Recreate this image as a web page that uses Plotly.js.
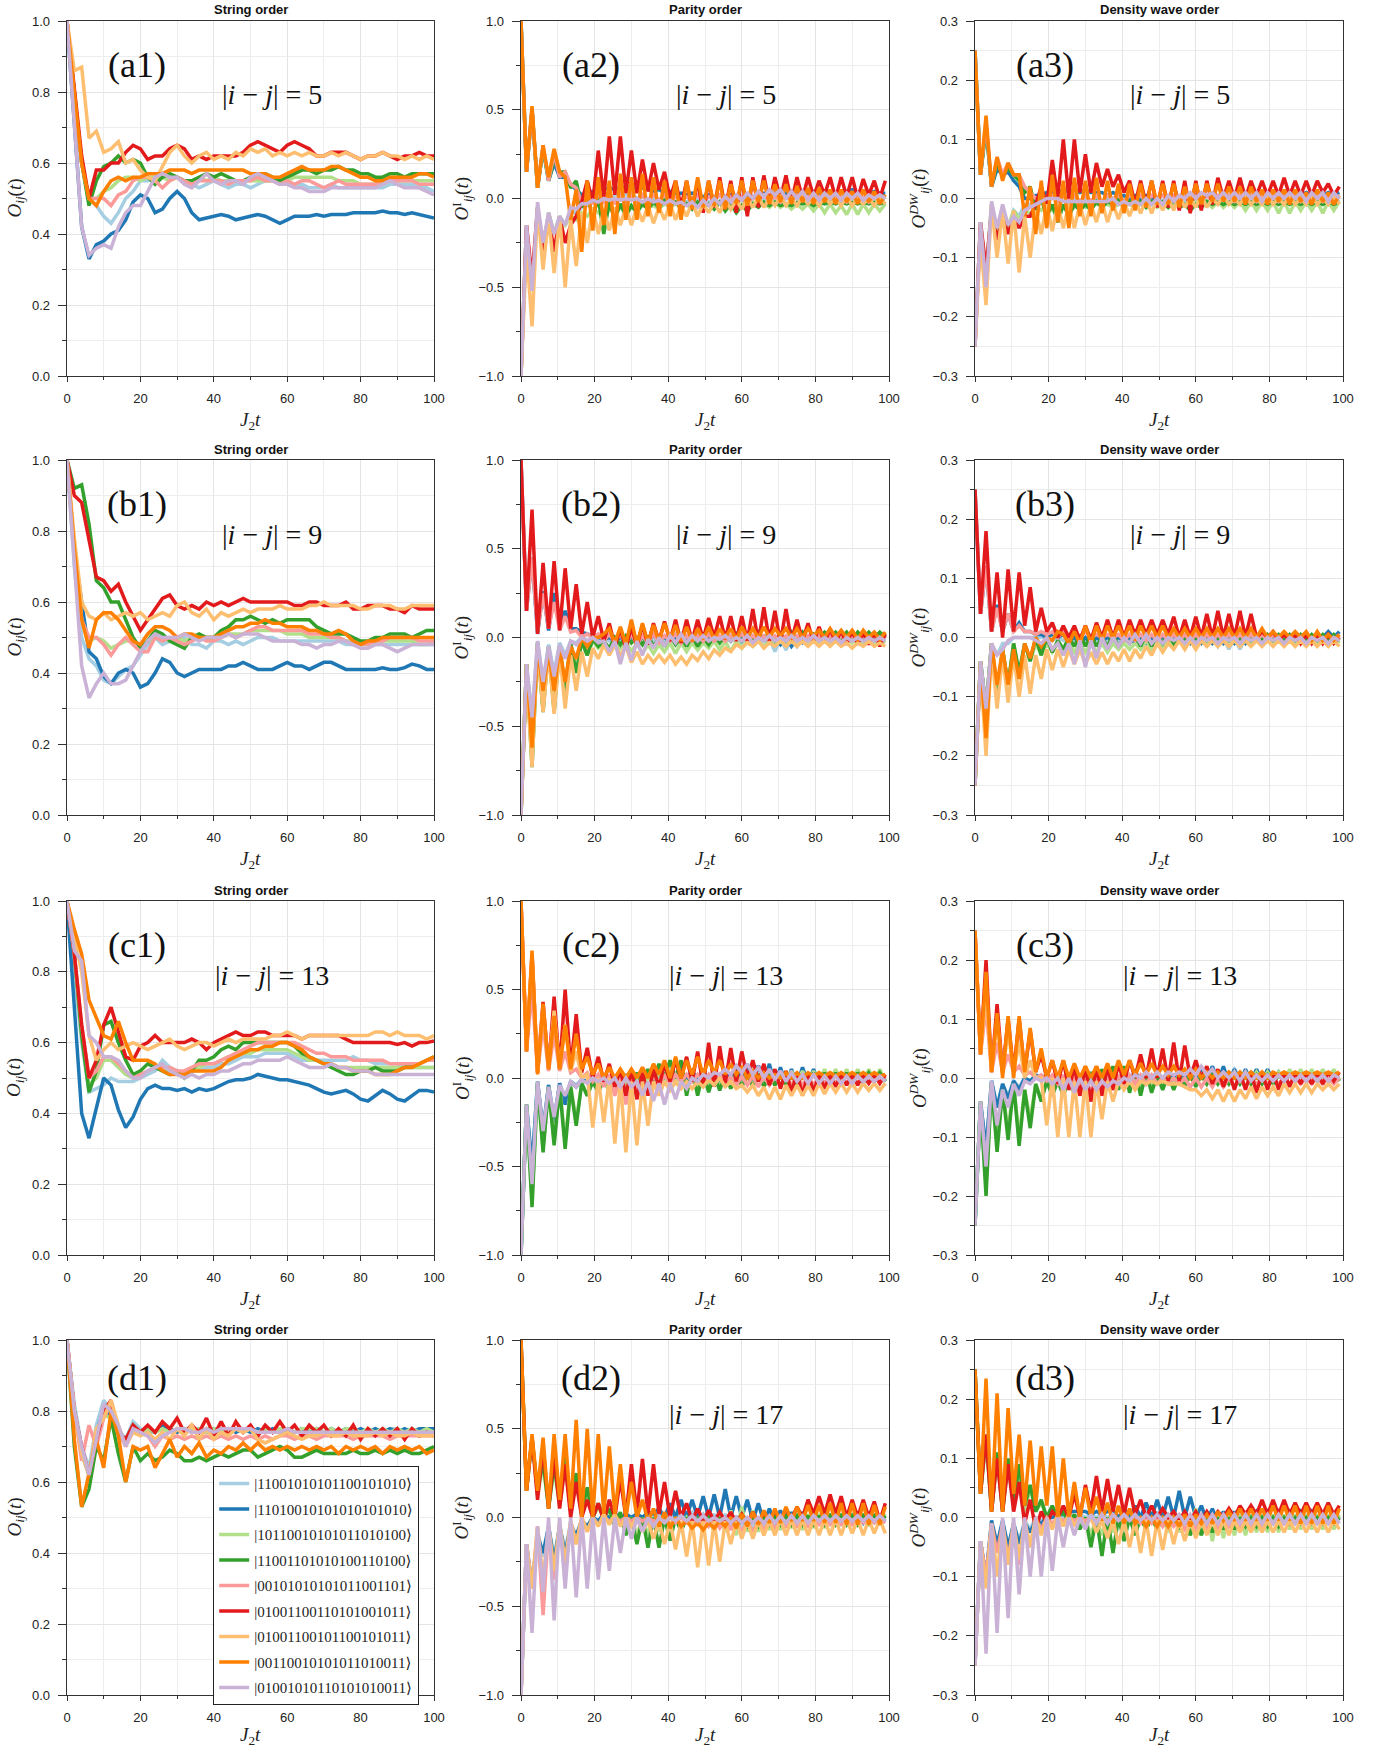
<!DOCTYPE html>
<html><head><meta charset="utf-8">
<script src="https://cdn.plot.ly/plotly-3.0.1.min.js"></script>
<style>html,body{margin:0;padding:0;background:#fff}#chart{width:1388px;height:1750px}</style>
</head><body><div id="chart"></div>
<script>
// time grids
const tS = [0,2,4,6,8,10,12,14,16,18,20,22,24,26,28,30,32,34,36,38,40,42,44,46,48,50,52,54,56,58,60,62,64,66,68,70,72,74,76,78,80,82,84,86,88,90,92,94,96,98,100];
const tP = [0,1.5,3,4.5,6,7.5,9,10.5,12,13.5,15,16.5,18,19.5,21,22.5,24,25.5,27,28.5,30,31.5,33,34.5,36,37.5,39,40.5,42,43.5,45,46.5,48,49.5,51,52.5,54,55.5,57,58.5,60,61.5,63,64.5,66,67.5,69,70.5,72,73.5,75,76.5,78,79.5,81,82.5,84,85.5,87,88.5,90,91.5,93,94.5,96,97.5,99];
const stateLabels = ['|11001010101100101010⟩','|11010010101010101010⟩','|10110010101011010100⟩','|11001101010100110100⟩','|00101010101011001101⟩','|01001100110101001011⟩','|01001100101100101011⟩','|00110010101011010011⟩','|01001010110101010011⟩'];
const distances = [5, 9, 13, 17];

// ---- (a1) string order, |i-j|=5 ----
const a1_lb = [1,.78,.6,.5,.48,.45,.43,.46,.5,.52,.55,.55,.56,.56,.56,.56,.55,.54,.53,.54,.55,.54,.53,.54,.54,.53,.54,.55,.55,.54,.54,.54,.54,.53,.53,.53,.54,.53,.53,.53,.53,.53,.53,.53,.54,.54,.54,.54,.53,.53,.52];
const a1_db = [1,.7,.42,.33,.37,.38,.4,.41,.44,.49,.51,.5,.46,.47,.5,.52,.5,.46,.44,.445,.45,.455,.45,.44,.445,.45,.455,.45,.44,.43,.44,.45,.45,.45,.455,.45,.455,.455,.455,.46,.46,.46,.46,.465,.46,.46,.455,.46,.455,.45,.445];
const a1_lg = [1,.78,.6,.5,.5,.52,.53,.55,.56,.56,.55,.56,.56,.56,.55,.56,.55,.55,.56,.55,.56,.55,.55,.55,.55,.55,.55,.55,.55,.55,.55,.56,.56,.56,.56,.56,.56,.55,.55,.55,.54,.54,.54,.54,.55,.55,.55,.55,.55,.55,.55];
const a1_dg = [1,.8,.6,.48,.55,.59,.6,.62,.6,.61,.6,.56,.54,.56,.57,.56,.55,.55,.56,.57,.56,.57,.56,.55,.55,.56,.56,.57,.56,.55,.56,.57,.58,.58,.57,.58,.58,.59,.58,.58,.57,.57,.56,.56,.57,.57,.56,.57,.57,.57,.57];
const a1_pk = [1,.78,.6,.5,.5,.5,.48,.51,.52,.55,.56,.56,.55,.53,.55,.56,.55,.54,.55,.55,.55,.55,.54,.55,.55,.55,.56,.55,.55,.54,.55,.54,.55,.55,.54,.53,.54,.55,.54,.54,.54,.54,.54,.55,.55,.55,.55,.55,.54,.54,.54];
const a1_rd = [1,.8,.62,.5,.58,.58,.6,.6,.63,.65,.64,.61,.62,.62,.64,.65,.64,.61,.62,.61,.62,.62,.62,.62,.63,.65,.66,.65,.64,.63,.65,.66,.65,.64,.62,.62,.63,.63,.63,.62,.61,.62,.62,.63,.62,.61,.62,.62,.63,.62,.62];
const a1_lo = [1,.86,.87,.67,.69,.63,.64,.66,.6,.61,.58,.56,.55,.59,.63,.65,.62,.6,.62,.63,.61,.62,.61,.63,.62,.64,.63,.64,.62,.63,.62,.63,.62,.63,.62,.62,.63,.62,.63,.62,.61,.62,.62,.63,.62,.62,.61,.62,.61,.62,.61];
const a1_or = [1,.8,.6,.5,.48,.52,.55,.56,.55,.56,.56,.57,.57,.57,.58,.58,.58,.57,.58,.58,.58,.58,.58,.58,.58,.57,.57,.57,.56,.56,.57,.58,.59,.58,.58,.58,.59,.59,.58,.57,.56,.56,.55,.55,.56,.56,.56,.56,.57,.57,.56];
const a1_lv = [1,.7,.42,.34,.36,.37,.36,.42,.46,.48,.48,.52,.56,.57,.56,.56,.54,.53,.55,.57,.55,.54,.55,.55,.54,.56,.57,.56,.55,.54,.54,.53,.53,.52,.52,.52,.53,.53,.53,.53,.53,.53,.53,.54,.55,.54,.53,.53,.53,.52,.51];

// ---- (b1) string order, |i-j|=9 ----
const b1_lb = [1,.7,.5,.44,.42,.38,.37,.39,.41,.42,.45,.48,.5,.48,.49,.49,.5,.48,.48,.47,.49,.49,.48,.49,.48,.49,.5,.5,.5,.49,.49,.49,.49,.49,.49,.49,.49,.49,.48,.48,.48,.48,.48,.48,.48,.48,.48,.48,.48,.48,.48];
const b1_db = [1,.75,.6,.46,.44,.39,.37,.4,.41,.4,.36,.37,.4,.44,.43,.4,.39,.4,.41,.41,.41,.41,.42,.42,.43,.42,.41,.41,.41,.42,.43,.42,.42,.41,.42,.43,.43,.42,.41,.41,.41,.41,.41,.415,.41,.41,.415,.425,.42,.41,.41];
const b1_lg = [1,.75,.55,.49,.5,.49,.47,.48,.49,.49,.48,.49,.5,.5,.49,.5,.49,.5,.5,.5,.5,.5,.51,.51,.51,.52,.52,.52,.52,.52,.51,.51,.51,.5,.5,.5,.5,.5,.49,.49,.48,.48,.49,.49,.49,.49,.49,.49,.48,.48,.49];
const b1_dg = [1,.92,.93,.82,.66,.64,.6,.6,.55,.5,.47,.49,.52,.51,.49,.48,.47,.5,.51,.5,.5,.52,.53,.55,.55,.56,.55,.54,.55,.54,.55,.55,.55,.55,.53,.52,.51,.51,.51,.5,.49,.49,.5,.5,.51,.51,.51,.5,.51,.52,.52];
const b1_pk = [1,.75,.55,.5,.5,.48,.45,.48,.5,.48,.46,.46,.5,.49,.5,.49,.48,.49,.5,.49,.49,.5,.51,.5,.51,.52,.53,.53,.52,.52,.52,.52,.52,.51,.51,.51,.5,.5,.49,.48,.48,.48,.49,.49,.5,.5,.5,.5,.49,.49,.49];
const b1_rd = [1,.9,.88,.77,.67,.66,.63,.65,.6,.56,.52,.55,.58,.61,.62,.59,.58,.59,.58,.6,.59,.6,.59,.6,.61,.6,.6,.6,.6,.6,.6,.59,.59,.6,.6,.59,.59,.59,.6,.58,.58,.59,.59,.59,.58,.58,.57,.59,.58,.58,.58];
const b1_lo = [1,.78,.6,.56,.55,.57,.55,.56,.57,.56,.57,.55,.56,.57,.56,.59,.6,.57,.56,.58,.55,.57,.56,.57,.58,.57,.58,.58,.58,.59,.58,.58,.58,.59,.59,.6,.59,.59,.59,.59,.58,.58,.59,.59,.59,.58,.58,.59,.59,.59,.59];
const b1_or = [1,.75,.55,.47,.55,.57,.57,.55,.52,.49,.48,.51,.53,.53,.52,.5,.51,.51,.5,.5,.5,.51,.52,.53,.53,.54,.54,.55,.54,.54,.53,.53,.53,.52,.52,.51,.51,.52,.51,.49,.48,.49,.49,.5,.5,.5,.5,.5,.5,.5,.5];
const b1_lv = [1,.7,.42,.33,.37,.4,.37,.37,.38,.42,.46,.49,.51,.5,.5,.5,.51,.5,.49,.5,.5,.5,.51,.5,.51,.51,.51,.5,.49,.49,.49,.49,.48,.48,.47,.48,.48,.49,.49,.48,.47,.47,.48,.48,.47,.46,.47,.48,.48,.48,.48];

// ---- (c1) string order, |i-j|=13 ----
const c1_lb = [1,.8,.6,.46,.47,.48,.5,.49,.49,.49,.5,.51,.52,.55,.53,.52,.51,.52,.52,.53,.53,.54,.54,.55,.56,.56,.56,.57,.57,.57,.57,.56,.55,.55,.55,.55,.55,.55,.55,.56,.55,.55,.54,.54,.54,.54,.53,.53,.53,.53,.53];
const c1_db = [1,.7,.4,.33,.42,.5,.48,.41,.36,.39,.44,.47,.48,.47,.47,.465,.47,.46,.47,.465,.47,.48,.49,.495,.495,.5,.51,.505,.5,.495,.495,.49,.485,.48,.47,.46,.455,.46,.465,.455,.44,.435,.45,.465,.455,.44,.435,.45,.465,.465,.46];
const c1_lg = [1,.85,.62,.48,.5,.55,.55,.53,.51,.5,.51,.52,.53,.53,.52,.51,.51,.52,.53,.54,.54,.55,.56,.56,.57,.57,.58,.58,.58,.58,.58,.57,.56,.55,.55,.54,.54,.53,.53,.53,.53,.53,.53,.53,.53,.53,.53,.53,.53,.53,.53];
const c1_dg = [1,.85,.62,.46,.52,.65,.66,.6,.55,.51,.52,.54,.53,.52,.51,.52,.5,.52,.55,.55,.56,.58,.59,.58,.6,.6,.6,.6,.6,.6,.6,.59,.57,.56,.55,.54,.53,.52,.51,.51,.52,.52,.53,.52,.52,.52,.53,.54,.54,.55,.56];
const c1_pk = [1,.85,.65,.5,.52,.56,.56,.54,.52,.5,.51,.52,.53,.53,.53,.52,.52,.53,.54,.54,.54,.55,.56,.57,.58,.59,.6,.6,.6,.6,.6,.6,.59,.58,.57,.57,.56,.56,.56,.55,.55,.55,.55,.55,.54,.54,.54,.54,.54,.55,.55];
const c1_rd = [1,.85,.65,.5,.55,.65,.7,.63,.56,.55,.59,.6,.62,.6,.6,.6,.6,.61,.6,.58,.6,.61,.62,.63,.62,.62,.63,.63,.62,.62,.62,.62,.61,.62,.62,.62,.62,.62,.61,.6,.6,.6,.6,.6,.6,.595,.6,.59,.6,.6,.605];
const c1_lo = [1,.9,.8,.62,.55,.58,.6,.58,.59,.6,.59,.58,.59,.6,.61,.59,.58,.59,.6,.6,.59,.6,.61,.6,.61,.61,.61,.61,.62,.62,.63,.62,.61,.62,.62,.62,.62,.62,.62,.62,.62,.62,.63,.63,.62,.63,.62,.62,.62,.61,.62];
const c1_or = [1,.92,.85,.72,.67,.62,.61,.66,.6,.55,.55,.55,.54,.52,.51,.51,.51,.52,.52,.52,.52,.53,.55,.56,.57,.58,.58,.59,.59,.6,.6,.59,.58,.56,.55,.54,.54,.53,.53,.52,.52,.52,.51,.51,.51,.52,.53,.53,.54,.55,.56];
const c1_lv = [1,.86,.83,.62,.6,.56,.56,.55,.52,.5,.5,.52,.53,.54,.52,.51,.5,.51,.5,.51,.51,.52,.52,.53,.54,.54,.55,.55,.55,.55,.56,.55,.54,.53,.53,.53,.54,.53,.53,.52,.52,.52,.51,.51,.51,.51,.51,.51,.51,.51,.51];

// ---- (d1) string order, |i-j|=17 ----
const d1_lb = [1,.82,.7,.64,.76,.83,.8,.75,.72,.77,.75,.74,.74,.75,.74,.75,.74,.75,.74,.75,.75,.74,.75,.74,.75,.75,.74,.75,.74,.75,.75,.74,.75,.74,.75,.74,.75,.74,.75,.74,.75,.74,.75,.74,.75,.75,.74,.75,.74,.75,.75];
const d1_db = [1,.8,.68,.62,.74,.8,.79,.74,.72,.76,.74,.75,.74,.76,.75,.74,.75,.74,.75,.74,.75,.74,.75,.74,.75,.74,.75,.74,.75,.74,.75,.74,.75,.74,.75,.74,.75,.74,.75,.74,.75,.74,.75,.74,.75,.74,.75,.74,.75,.75,.75];
const d1_lg = [1,.8,.68,.62,.74,.79,.78,.74,.72,.76,.74,.75,.74,.75,.74,.75,.75,.74,.75,.74,.75,.74,.75,.75,.74,.75,.74,.75,.74,.75,.75,.74,.75,.75,.75,.74,.75,.74,.75,.75,.74,.75,.74,.75,.74,.75,.74,.75,.74,.75,.74];
const d1_dg = [1,.7,.53,.58,.7,.66,.78,.68,.6,.7,.66,.68,.66,.67,.69,.68,.66,.66,.67,.66,.67,.68,.67,.68,.69,.69,.67,.68,.69,.7,.69,.67,.67,.68,.69,.68,.68,.68,.68,.69,.68,.68,.69,.68,.69,.68,.69,.68,.68,.69,.7];
const d1_pk = [1,.8,.66,.76,.7,.78,.82,.74,.7,.75,.74,.73,.7,.73,.72,.73,.72,.73,.72,.73,.72,.73,.72,.73,.72,.73,.72,.73,.72,.73,.73,.72,.73,.73,.72,.73,.73,.73,.73,.72,.73,.73,.73,.73,.72,.73,.73,.73,.73,.73,.73];
const d1_rd = [1,.8,.7,.62,.72,.8,.83,.74,.72,.76,.74,.76,.74,.77,.75,.78,.74,.76,.74,.78,.73,.77,.73,.77,.74,.76,.73,.76,.74,.77,.74,.76,.73,.76,.74,.76,.73,.75,.73,.76,.72,.75,.73,.75,.73,.75,.72,.75,.73,.74,.73];
const d1_lo = [1,.8,.68,.62,.75,.78,.83,.76,.7,.74,.73,.74,.72,.74,.72,.75,.73,.76,.72,.75,.72,.74,.73,.75,.74,.75,.72,.71,.72,.73,.74,.73,.72,.73,.73,.74,.73,.73,.74,.73,.73,.73,.74,.73,.74,.73,.73,.74,.73,.73,.73];
const d1_or = [1,.72,.53,.63,.72,.64,.8,.73,.6,.7,.69,.7,.64,.68,.72,.67,.7,.68,.71,.67,.69,.68,.7,.69,.71,.69,.71,.69,.7,.69,.7,.69,.7,.69,.7,.69,.7,.68,.7,.69,.7,.69,.7,.68,.7,.69,.7,.69,.7,.68,.69];
const d1_lv = [1,.8,.7,.62,.72,.82,.8,.76,.7,.75,.74,.73,.71,.73,.74,.75,.75,.74,.74,.75,.74,.75,.75,.75,.75,.75,.74,.74,.74,.74,.75,.74,.74,.74,.74,.74,.74,.74,.74,.74,.74,.74,.74,.74,.74,.74,.74,.74,.74,.74,.74];

// ---- (a2) parity order, |i-j|=5 ----
const a2_lb = [-1,-.15,-.5,-.05,-.28,-.08,-.2,-.1,-.15,-.08,-.08,-.05,-.04,-.02,-.02,0,0,.02,.03,.02,.03,0,.01,-.01,0,-.01,0,-.01,-.02,-.01,-.02,0,-.01,0,-.02,-.01,-.02,0,-.01,0,-.01,.01,0,.01,-.01,0,-.01,.01,0,.01,0,.01,-.01,.01,0,.01,-.01,0,0,.01,0,.01,-.01,0,0,.01,0];
const a2_db = [1,.15,.5,.06,.28,.1,.2,.12,.12,.08,.05,.02,.03,.04,.05,.05,.06,.05,.07,.06,.07,.05,.06,.05,.04,.05,.03,.04,.02,.03,.02,.03,.02,.01,.02,0,.02,.01,.02,0,.01,.02,.01,.02,.03,.01,.03,.02,.03,.02,.03,.04,.03,.04,.03,.04,.04,.03,.04,.04,.05,.03,.04,.03,.04,.03,.03];
const a2_lg = [-1,-.15,-.5,-.05,-.28,-.08,-.2,-.1,-.15,-.1,-.12,-.08,-.1,-.06,-.08,-.1,-.06,-.08,-.05,-.07,-.05,-.06,-.04,-.05,-.04,-.06,-.03,-.05,-.03,-.05,-.03,-.05,-.02,-.05,-.03,-.06,-.02,-.05,-.03,-.06,-.03,-.05,-.02,-.04,-.03,-.05,-.02,-.05,-.03,-.06,-.03,-.06,-.03,-.07,-.03,-.08,-.03,-.08,-.04,-.09,-.03,-.09,-.03,-.08,-.03,-.07,-.03];
const a2_dg = [1,.15,.5,.06,.28,.1,.22,.15,.15,.06,.1,-.05,.02,-.1,0,-.2,-.02,-.12,-.03,-.1,-.04,-.08,-.03,-.06,-.02,-.05,-.01,-.04,-.02,-.05,-.03,-.06,-.02,-.05,-.03,-.06,-.02,-.07,-.03,-.08,-.04,-.07,-.03,-.05,-.02,-.04,-.02,-.04,-.03,-.04,-.02,-.03,-.02,-.04,-.02,-.03,-.02,-.03,-.02,-.03,-.02,-.03,-.02,-.03,-.02,-.03,-.02];
const a2_pk = [1,.15,.5,.06,.3,.1,.25,.12,.15,.08,.06,-.02,.03,-.03,.02,-.02,.03,-.03,.02,-.02,.02,-.02,.02,-.02,.02,-.01,.02,-.02,.01,-.01,.01,-.01,.02,-.02,.01,-.01,.02,-.01,.01,-.02,.01,-.02,.01,-.01,.02,-.01,.01,-.02,.01,-.01,.02,-.01,.01,-.02,.01,-.01,.02,-.01,.01,-.02,.01,-.01,.01,-.02,.01,-.01,.01];
const a2_rd = [-1,-.15,-.45,-.05,-.33,-.1,-.3,-.1,-.25,-.15,-.1,-.02,.1,-.02,.27,0,.35,.02,.35,.03,.27,.03,.22,.04,.2,.05,.15,0,.1,-.05,.1,-.06,.1,-.08,.1,-.05,.12,-.06,.1,-.08,.12,-.1,.12,-.05,.13,-.03,.12,0,.13,-.02,.12,0,.12,.01,.1,.02,.12,0,.12,.01,.12,0,.11,.02,.1,0,.1];
const a2_lo = [-1,-.28,-.72,-.05,-.4,-.1,-.42,-.1,-.5,-.12,-.38,-.08,-.25,-.05,-.2,-.06,-.18,-.05,-.15,-.05,-.15,-.05,-.13,-.04,-.14,-.05,-.12,-.03,-.12,-.04,-.1,-.02,-.1,-.03,-.08,-.02,-.08,-.01,-.06,-.01,-.06,0,-.05,.01,-.05,0,-.04,.01,-.04,0,-.04,.01,-.03,0,-.04,.01,-.03,0,-.04,.01,-.04,0,-.03,0,-.04,0,-.03];
const a2_or = [1,.15,.52,.06,.3,.12,.28,.15,.12,-.12,.05,-.3,.1,-.18,.12,-.15,.1,-.2,.14,-.12,.12,-.12,.14,-.1,.12,-.08,.1,-.1,.1,-.12,.1,-.06,.12,-.05,.1,-.04,.1,-.06,.08,-.03,.1,-.04,.1,-.02,.1,-.03,.08,-.02,.08,-.03,.07,-.02,.06,-.03,.06,-.02,.05,-.03,.05,-.02,.04,-.03,.05,-.02,.04,-.03,.02];
const a2_lv = [-1,-.15,-.52,-.02,-.25,-.08,-.2,-.1,-.15,-.05,-.06,-.03,-.03,-.01,-.02,0,-.01,0,-.01,0,-.01,0,-.02,0,-.02,-.01,-.03,-.01,-.03,-.02,-.04,-.02,-.05,-.01,-.04,0,-.03,.01,-.02,.02,-.01,.03,0,.04,.01,.05,.02,.05,0,.04,0,.04,-.01,.03,-.01,.03,0,.03,-.01,.03,0,.03,-.01,.02,0,.02,0];

// ---- (a3) density wave order, |i-j|=5 ----
const a3_lb = [-.25,-.04,-.13,-.01,-.06,-.02,-.05,-.02,-.03,-.01,-.01,0,.005,.005,.01,0,.005,0,0,-.005,0,-.005,0,-.005,0,0,-.005,0,-.005,0,-.005,0,-.005,0,-.005,0,-.005,0,-.005,0,-.005,0,-.005,0,-.005,0,-.005,0,-.005,0,-.005,0,-.005,0,-.005,0,-.005,0,-.005,0,-.005,0,-.005,0,-.005,0,-.005];
const a3_db = [.25,.04,.12,.02,.05,.04,.045,.03,.02,0,0,.005,.005,.01,.01,.01,.015,.01,.015,.01,.015,.01,.01,.01,.005,.01,.005,.005,0,.005,0,.005,0,0,.005,0,.005,0,.005,0,.005,0,.005,0,.005,.005,.005,0,.005,.005,.005,.005,.01,.005,.01,.005,.01,.005,.01,.005,.01,.005,.01,.005,.01,.005,.01];
const a3_lg = [-.25,-.04,-.13,-.01,-.06,-.02,-.05,-.02,-.035,-.02,-.025,-.015,-.02,-.01,-.02,-.015,-.015,-.01,-.015,-.01,-.015,-.01,-.01,-.01,-.01,-.015,-.01,-.01,-.01,-.015,-.01,-.015,-.005,-.015,-.01,-.015,-.005,-.015,-.01,-.015,-.005,-.015,-.005,-.015,-.005,-.015,-.005,-.015,-.005,-.02,-.005,-.02,-.005,-.02,-.005,-.025,-.005,-.025,-.005,-.02,-.005,-.02,-.005,-.025,-.005,-.02,-.005];
const a3_dg = [.25,.04,.12,.02,.06,.04,.05,.04,.03,.01,.02,-.02,0,-.03,-.01,-.04,-.01,-.03,-.01,-.02,-.01,-.02,-.005,-.015,-.005,-.01,0,-.01,-.005,-.01,-.005,-.015,-.005,-.01,-.005,-.015,-.005,-.015,-.01,-.02,-.01,-.015,-.005,-.01,-.005,-.01,-.005,-.01,-.005,-.01,-.005,-.01,-.005,-.01,-.005,-.01,-.005,-.01,-.005,-.01,-.005,-.01,-.005,-.01,-.005,-.01,-.005];
const a3_pk = [.25,.04,.13,.02,.07,.04,.06,.04,.04,.02,.01,0,.005,-.005,.005,-.005,.005,-.005,.005,-.005,.005,-.005,.005,-.005,.005,0,.005,-.005,.005,0,.005,-.005,.005,0,.005,-.005,.005,0,.005,-.005,.005,0,.005,-.005,.005,0,.005,-.005,.005,0,.005,-.005,.005,0,.005,-.005,.005,0,.005,-.005,.005,0,.005,-.005,.005,0,.005];
const a3_rd = [-.25,-.04,-.12,-.02,-.07,-.03,-.06,-.03,-.05,-.03,-.03,-.01,.02,-.01,.065,0,.1,0,.1,.01,.075,.01,.06,.02,.05,.02,.04,.01,.03,-.01,.03,-.01,.03,-.015,.03,-.015,.03,-.02,.03,-.025,.03,-.02,.03,-.01,.035,0,.03,0,.035,0,.03,.005,.03,.005,.03,.005,.035,.005,.03,.005,.03,.005,.03,.01,.025,.005,.02];
const a3_lo = [-.25,-.07,-.18,-.01,-.1,-.02,-.11,-.02,-.125,-.03,-.1,-.02,-.06,-.01,-.055,-.01,-.05,-.01,-.05,-.01,-.045,-.01,-.04,-.005,-.04,-.01,-.035,-.005,-.03,-.005,-.025,0,-.025,0,-.02,0,-.02,.005,-.015,0,-.015,.005,-.015,0,-.01,.005,-.01,0,-.01,.005,-.01,0,-.01,.005,-.01,0,-.01,.005,-.01,0,-.01,.005,-.01,0,-.01,.005,-.01];
const a3_or = [.25,.04,.14,.02,.07,.03,.06,.04,.04,-.03,.02,-.06,.03,-.05,.04,-.04,.03,-.05,.035,-.03,.03,-.03,.035,-.025,.03,-.02,.025,-.025,.025,-.02,.025,-.015,.03,-.01,.025,-.01,.025,-.015,.02,-.01,.025,-.01,.025,-.005,.025,-.005,.02,-.005,.02,-.01,.02,-.005,.015,-.01,.015,-.005,.015,-.01,.015,-.005,.01,-.01,.015,-.005,.01,-.01,.005];
const a3_lv = [-.25,-.04,-.15,-.005,-.05,-.01,-.045,-.03,-.04,-.02,-.015,-.01,-.005,0,0,0,-.005,-.005,-.005,-.005,-.005,-.005,-.005,-.005,-.005,0,-.01,-.005,-.01,-.005,-.01,0,-.01,0,-.01,.005,-.005,.005,0,.01,0,.01,.005,.01,0,.01,0,.01,0,.01,0,.01,-.005,.01,0,.01,0,.01,0,.01,-.005,.01,0,.01,-.005,.01,0];

// ---- (b2) parity order, |i-j|=9 ----
const b2_lb = [-1,-.15,-.45,-.02,-.25,-.04,-.2,-.03,-.1,-.02,-.03,0,-.02,0,-.02,0,-.02,0,-.02,0,-.02,0,-.02,0,-.02,0,-.02,0,-.02,0,-.02,0,-.02,0,-.02,0,-.02,0,-.02,0,-.03,0,-.04,0,-.06,0,-.08,0,-.07,0,-.05,0,-.04,0,-.03,0,-.03,0,-.02,0,-.02,0,-.02,0,-.02,0,-.02];
const b2_db = [1,.15,.45,.02,.26,.04,.25,.06,.15,.05,.05,.03,.02,.01,0,-.01,0,-.02,0,-.01,0,-.02,0,-.02,.01,-.01,0,-.02,0,-.03,0,-.03,.01,-.03,0,-.02,0,-.02,.01,-.01,0,-.01,.01,-.02,0,-.03,0,-.04,0,-.05,-.01,-.03,0,-.02,0,-.01,0,-.01,.01,-.01,.01,-.01,.02,-.01,.02,0,.02];
const b2_lg = [-1,-.15,-.7,-.03,-.4,-.05,-.4,-.05,-.28,-.03,-.2,-.02,-.1,-.02,-.06,-.03,-.08,-.02,-.06,-.02,-.08,-.03,-.09,-.04,-.09,-.04,-.08,-.03,-.09,-.03,-.08,-.03,-.07,-.03,-.06,-.02,-.07,-.02,-.08,-.02,-.06,-.02,-.05,-.02,-.05,-.02,-.04,-.01,-.04,-.01,-.04,-.01,-.03,-.01,-.03,-.01,-.03,0,-.03,0,-.03,0,-.03,0,-.03,0,-.03];
const b2_dg = [-1,-.15,-.73,-.03,-.42,-.05,-.42,-.05,-.3,-.03,-.2,-.02,-.1,-.01,-.05,-.02,-.06,0,-.04,.01,-.03,0,-.04,.01,-.05,0,-.05,.01,-.04,0,-.05,.01,-.05,0,-.04,.01,-.03,.01,-.02,.02,-.02,.02,-.02,.03,-.01,.03,-.02,.02,-.02,.03,-.01,.03,-.01,.02,0,.03,0,.03,0,.03,-.01,.03,0,.03,0,.03,0];
const b2_pk = [1,.15,.45,.03,.25,.05,.2,.04,.12,.03,.04,0,.02,0,.02,-.02,.02,-.03,.02,-.04,.02,-.04,.01,-.03,.02,-.03,.01,-.02,.02,-.03,.01,-.02,.01,-.02,.02,-.02,.01,-.02,.01,-.01,.02,-.02,.01,-.02,.01,-.02,.01,-.02,.01,-.02,.01,-.02,.01,-.02,.01,-.02,.01,-.02,.01,-.02,.01,-.02,.01,-.02,.01,-.02,.01];
const b2_rd = [1,.15,.72,.02,.42,.05,.43,.04,.39,.05,.3,.02,.2,0,.12,-.02,.08,-.05,.05,-.06,.06,-.05,.07,-.04,.08,-.02,.09,-.02,.1,-.03,.1,-.02,.1,-.01,.11,0,.12,-.01,.12,-.02,.12,-.02,.16,-.03,.17,-.02,.15,-.03,.16,-.02,.1,-.02,.08,-.03,.06,-.03,.05,-.03,.04,-.04,.04,-.04,.03,-.04,.03,-.05,.02];
const b2_lo = [-1,-.2,-.73,-.05,-.42,-.08,-.43,-.08,-.4,-.1,-.3,-.08,-.22,-.06,-.12,-.04,-.1,-.04,-.1,-.05,-.14,-.08,-.15,-.1,-.14,-.1,-.14,-.1,-.15,-.11,-.15,-.1,-.13,-.08,-.12,-.07,-.1,-.06,-.08,-.04,-.06,-.03,-.05,-.02,-.06,-.03,-.05,-.02,-.05,-.02,-.05,-.02,-.05,-.02,-.05,-.02,-.05,-.02,-.05,-.03,-.06,-.03,-.05,-.02,-.05,-.03,-.05];
const b2_or = [-1,-.15,-.62,-.05,-.3,-.08,-.3,-.06,-.25,-.05,-.12,0,-.05,0,0,.02,.05,-.03,.06,-.04,.1,-.04,.08,-.03,.07,-.02,.08,-.01,.07,-.02,.06,-.02,.05,-.01,.06,-.01,.05,0,.05,-.01,.06,0,.05,0,.06,0,.05,.01,.05,0,.05,0,.05,.01,.04,0,.05,0,.04,0,.04,-.01,.04,0,.03,-.01,.03];
const b2_lv = [-1,-.15,-.45,-.02,-.25,-.05,-.22,-.04,-.12,-.02,-.04,0,-.02,0,-.03,-.02,-.08,-.02,-.15,-.03,-.13,-.02,-.1,-.01,-.06,0,-.05,.01,-.03,.02,-.03,.01,-.02,.01,-.02,0,-.01,.01,-.02,0,-.02,.01,-.03,0,-.02,.01,-.02,0,-.02,.01,-.02,0,-.02,.01,-.02,0,-.02,0,-.03,0,-.02,0,-.02,0,-.02,0,-.02];

// ---- (b3) density wave order, |i-j|=9 ----
const b3_lb = [-.25,-.04,-.12,-.01,-.03,-.01,-.01,0,0,0,0,0,0,0,-.005,0,-.005,0,-.005,0,-.005,0,-.005,0,-.005,0,-.005,0,-.005,0,-.005,0,-.005,0,-.005,0,-.005,0,-.005,0,-.005,0,-.01,0,-.015,0,-.02,0,-.02,0,-.01,0,-.005,0,-.005,0,-.005,0,-.005,0,-.005,0,-.005,0,-.005,0,-.005];
const b3_db = [.25,.04,.12,.01,.055,.01,.04,.01,.025,.01,.01,.005,.005,0,.005,0,.005,-.005,0,-.01,0,-.01,0,-.005,0,-.005,0,-.005,0,-.01,0,-.01,0,-.005,0,-.005,0,-.005,0,-.01,0,-.01,0,-.01,0,-.01,0,-.01,0,-.01,0,-.005,.005,-.005,.005,-.005,.005,0,.005,0,.005,0,.005,0,.01,0,.01];
const b3_lg = [-.25,-.04,-.12,-.01,-.09,-.02,-.08,-.01,-.06,-.01,-.04,-.01,-.03,-.01,-.025,-.01,-.025,-.01,-.025,-.01,-.025,-.01,-.025,-.01,-.025,-.01,-.02,-.01,-.02,-.01,-.02,-.005,-.02,-.005,-.015,-.005,-.015,-.005,-.015,-.005,-.015,-.005,-.01,-.005,-.01,-.005,-.01,-.005,-.01,-.005,-.01,0,-.01,0,-.01,0,-.01,0,-.01,0,-.01,0,-.01,0,-.01,0,-.01];
const b3_dg = [-.25,-.04,-.12,-.01,-.1,-.02,-.08,-.01,-.06,-.01,-.04,0,-.03,0,-.025,-.005,-.02,0,-.015,.005,-.015,.005,-.015,0,-.015,.005,-.015,0,-.01,.005,-.015,.005,-.015,.005,-.01,.005,-.01,.005,-.005,.005,-.005,.005,-.005,.005,-.005,.005,-.005,.005,-.005,.005,-.005,.005,-.005,.005,-.005,.005,-.005,.005,-.005,.005,-.005,.005,-.005,.005,-.005,.005,-.005];
const b3_pk = [.25,.04,.12,.01,.05,.01,.04,.01,.02,.01,.01,.005,.01,.005,.01,0,.01,0,.01,0,.01,0,.005,0,.005,0,.005,-.005,.005,-.005,.005,-.005,.005,-.005,.005,-.005,.005,-.005,.005,-.005,.005,-.005,.005,-.005,.005,-.005,.005,-.005,.005,-.005,.005,-.005,.005,-.005,.005,-.005,.005,-.005,.005,-.005,.005,-.005,.005,-.005,.005,-.005,.005];
const b3_rd = [.25,.04,.18,.01,.11,0,.115,.01,.11,.02,.085,.01,.05,.01,.025,0,.02,0,.02,-.005,.02,-.005,.025,0,.03,0,.03,0,.03,.005,.03,.005,.03,.005,.03,.005,.035,0,.03,0,.035,0,.04,0,.045,0,.04,0,.045,0,.04,0,.01,0,.01,-.005,.005,-.005,.005,-.01,.005,-.01,.005,-.01,.005,-.01,0];
const b3_lo = [-.25,-.05,-.2,-.02,-.12,-.03,-.11,-.03,-.1,-.03,-.095,-.03,-.07,-.02,-.055,-.02,-.05,-.02,-.045,-.02,-.045,-.025,-.045,-.025,-.045,-.025,-.04,-.02,-.04,-.02,-.035,-.015,-.03,-.01,-.025,-.01,-.02,-.005,-.02,-.005,-.02,-.005,-.015,-.005,-.015,-.005,-.015,-.005,-.015,-.005,-.015,-.005,-.015,-.005,-.015,-.005,-.015,-.005,-.015,-.005,-.015,-.005,-.015,-.005,-.015,-.005,-.015];
const b3_or = [-.25,-.04,-.17,-.01,-.08,-.02,-.08,-.02,-.07,-.01,-.035,0,-.015,0,-.005,.01,.005,-.01,.01,-.01,.02,-.01,.02,-.005,.02,0,.02,0,.02,-.005,.02,0,.02,0,.02,0,.015,0,.015,0,.015,0,.015,0,.015,0,.015,0,.015,0,.015,0,.015,0,.01,0,.01,0,.01,0,.01,-.005,.01,-.005,.005,-.005,.005];
const b3_lv = [-.25,-.04,-.12,-.01,-.03,-.02,-.005,0,0,0,0,-.005,-.01,0,-.02,-.01,-.03,-.01,-.045,-.005,-.05,-.005,-.035,0,-.02,0,-.015,0,-.01,.005,-.01,.005,-.01,0,-.01,0,-.005,0,-.01,0,-.01,0,-.005,0,-.01,0,-.005,0,-.01,0,-.005,0,-.01,0,-.005,0,-.01,0,-.005,0,-.01,0,-.005,0,-.01,0,-.005];

// ---- (c2) parity order, |i-j|=13 ----
const c2_lb = [-1,-.15,-.5,-.02,-.28,-.04,-.22,-.03,-.12,-.02,-.04,-.01,-.02,0,-.02,0,-.02,0,-.02,0,-.02,.01,-.02,.01,-.02,.02,-.02,.02,-.02,.03,-.02,.03,-.02,.04,-.02,.05,-.02,.06,-.02,.07,-.02,.08,-.02,.07,-.02,.06,-.02,.05,-.02,.04,-.02,.03,-.02,.03,-.02,.02,-.02,.02,-.02,.02,-.02,.02,-.02,.02,-.02,.02,-.02];
const c2_db = [-1,-.15,-.5,-.02,-.3,-.04,-.25,-.03,-.15,-.02,-.05,-.01,-.02,0,-.02,.01,-.03,0,-.03,.01,-.04,.01,-.04,.02,-.04,.03,-.02,.03,-.02,.04,-.02,.05,-.03,.05,-.04,.04,-.04,.05,-.03,.06,-.03,.06,-.03,.07,-.03,.08,-.04,.06,-.04,.05,-.04,.06,-.03,.05,-.03,.04,-.03,.04,-.03,.03,-.03,.03,-.03,.03,-.02,.03,-.02];
const c2_lg = [-1,-.15,-.7,-.03,-.4,-.05,-.36,-.05,-.36,-.05,-.24,-.03,-.1,-.02,-.08,-.01,-.08,0,-.1,0,-.1,0,-.08,.02,-.06,.04,-.04,.05,-.04,.05,-.06,.03,-.06,.02,-.05,.02,-.05,.02,-.04,.02,-.04,.02,-.04,.03,-.04,.03,-.03,.03,-.03,.04,-.03,.04,-.03,.04,-.03,.05,-.02,.05,-.02,.05,-.02,.05,-.02,.05,-.02,.05,-.02];
const c2_dg = [-1,-.15,-.73,-.03,-.42,-.05,-.38,-.05,-.4,-.05,-.27,-.03,-.1,-.02,-.08,0,-.05,0,-.05,.02,-.04,.03,-.03,.05,-.02,.08,0,.1,0,.1,-.1,.05,-.1,.03,-.08,.02,-.07,.02,-.06,.02,-.05,.02,-.05,.02,-.05,.02,-.04,.02,-.04,.02,-.04,.02,-.03,.03,-.03,.03,-.03,.03,-.03,.03,-.03,.03,-.02,.03,-.02,.03,-.02];
const c2_pk = [1,.15,.5,.03,.3,.04,.25,.04,.15,.03,.05,0,.03,-.02,.02,-.05,.02,-.1,.02,-.15,.02,-.12,.02,-.08,.02,-.05,.02,-.03,.02,-.02,.02,-.02,.02,-.02,.02,-.03,.02,-.03,.01,-.04,.01,-.04,.01,-.05,.01,-.04,.01,-.04,.01,-.04,.01,-.04,.01,-.04,.01,-.03,.01,-.03,.01,-.03,.01,-.03,.01,-.03,.01,-.03,.01];
const c2_rd = [1,.15,.7,.03,.43,.05,.46,.05,.5,.05,.36,.03,.17,0,.12,-.02,.08,-.05,.05,-.1,.05,-.12,.03,-.1,.05,-.05,.08,-.02,.1,0,.12,-.02,.15,-.05,.2,-.05,.18,-.03,.17,-.02,.15,0,.1,-.02,.08,-.04,.05,-.06,.04,-.08,.03,-.1,.03,-.08,.02,-.06,.02,-.05,.02,-.04,.02,-.04,.02,-.03,.02,-.03,.02];
const c2_lo = [1,.15,.7,.03,.4,.05,.38,.05,.3,.04,.15,0,.02,-.28,0,-.25,0,-.37,-.02,-.42,-.02,-.38,-.02,-.27,-.02,-.1,-.02,-.07,-.02,-.06,-.02,-.06,-.02,-.05,-.01,-.04,0,-.05,-.02,-.06,-.04,-.08,-.04,-.1,-.05,-.12,-.05,-.12,-.04,-.1,-.04,-.1,-.04,-.1,-.03,-.09,-.03,-.08,-.03,-.08,-.03,-.08,-.03,-.07,-.03,-.07,-.03];
const c2_or = [1,.15,.72,.02,.42,.05,.35,.05,.3,.05,.25,.05,.12,.02,.08,0,.06,0,.05,0,.05,0,.06,0,.08,.02,.1,0,.12,0,.1,.02,.12,.02,.1,.03,.1,.02,.08,.02,.06,0,.04,0,.03,0,.02,0,.03,0,.03,0,.03,.01,.03,.01,.03,.01,.03,.01,.03,.01,.03,.01,.03,.01,.02];
const c2_lv = [-1,-.15,-.6,-.02,-.3,-.05,-.22,-.04,-.1,-.02,-.05,-.01,-.03,0,-.02,0,-.03,0,-.05,0,-.05,-.02,-.1,-.02,-.13,-.03,-.15,-.03,-.12,-.02,-.06,0,-.02,.02,0,.03,.02,.05,.02,.07,.03,.08,.02,.06,0,.05,-.01,.04,-.02,.03,-.02,.02,-.03,.02,-.03,.01,-.03,.01,-.03,.01,-.03,.01,-.02,.01,-.02,.01,-.02];

// ---- (c3) density wave order, |i-j|=13 ----
const c3_lb = [-.25,-.04,-.12,-.005,-.05,-.01,-.03,-.005,-.015,0,-.005,0,0,.005,0,.005,0,.005,0,.005,0,.005,0,.005,0,.005,0,.01,0,.01,0,.01,0,.01,0,.01,0,.015,0,.015,0,.02,0,.02,0,.015,0,.015,0,.01,0,.01,0,.01,0,.005,0,.005,0,.005,0,.005,0,.005,0,.005,0];
const c3_db = [-.25,-.04,-.12,-.005,-.05,-.01,-.035,-.005,-.02,0,-.005,.005,0,.005,-.005,.005,-.005,.005,-.005,.005,-.005,.005,-.005,.005,-.005,.01,-.005,.01,-.005,.01,-.005,.01,-.005,.01,-.005,.01,-.005,.015,-.005,.015,-.005,.015,-.01,.02,-.01,.02,-.01,.015,-.01,.015,-.005,.015,-.005,.015,-.005,.01,-.005,.01,-.005,.01,-.005,.01,-.005,.01,-.005,.01,-.005];
const c3_lg = [-.25,-.04,-.18,-.01,-.11,-.02,-.09,-.01,-.1,-.02,-.07,-.01,-.035,-.005,-.03,0,-.03,0,-.03,.005,-.025,.005,-.02,.01,-.02,.01,-.015,.01,-.015,.01,-.015,.01,-.015,.005,-.01,.005,-.01,.005,-.01,.005,-.01,.005,-.01,.005,-.01,.01,-.005,.01,-.005,.01,-.005,.01,-.005,.01,-.005,.01,-.005,.015,-.005,.015,-.005,.015,-.005,.015,-.005,.015,-.005];
const c3_dg = [-.25,-.04,-.2,-.01,-.125,-.02,-.105,-.01,-.115,-.02,-.085,-.01,-.04,-.005,-.03,-.005,-.03,0,-.025,.005,-.02,.01,-.02,.015,-.02,.02,-.02,.02,-.025,.015,-.03,.01,-.025,.005,-.02,.005,-.02,.005,-.015,.005,-.015,.005,-.01,.005,-.01,.005,-.01,.005,-.01,.005,-.01,.005,-.01,.005,-.01,.005,-.005,.005,-.005,.005,-.005,.005,-.005,.005,-.005,.005,-.005];
const c3_pk = [.25,.04,.12,.01,.06,.01,.04,.01,.02,.005,.01,0,.005,-.005,.005,-.01,.005,-.02,.005,-.03,.005,-.04,.005,-.03,.005,-.02,.005,-.01,.005,-.01,.005,-.01,.005,-.01,0,-.01,0,-.01,0,-.015,0,-.015,0,-.015,0,-.015,0,-.015,0,-.015,0,-.01,0,-.01,0,-.01,0,-.01,0,-.01,0,-.01,0,-.01,0,-.01,0];
const c3_rd = [.25,.04,.2,.01,.125,.01,.1,.01,.1,.01,.08,.01,.04,0,.03,-.01,.03,-.02,.02,-.03,.02,-.04,.02,-.03,.02,-.02,.025,-.01,.03,0,.04,0,.05,0,.05,-.005,.06,-.005,.055,0,.03,0,.02,-.01,.015,-.015,.01,-.02,.01,-.02,.01,-.025,.01,-.02,.01,-.02,.01,-.015,.01,-.01,.01,-.01,.01,-.01,.01,-.005,.01];
const c3_lo = [.25,.04,.15,.01,.1,.01,.08,.01,.06,0,.03,0,0,-.08,0,-.1,0,-.1,-.005,-.1,-.005,-.1,-.005,-.07,-.005,-.04,-.005,-.02,-.005,-.02,-.005,-.01,-.005,-.01,-.005,-.01,-.01,-.01,-.015,-.02,-.02,-.03,-.02,-.035,-.02,-.04,-.02,-.04,-.02,-.035,-.015,-.035,-.015,-.03,-.015,-.03,-.01,-.025,-.01,-.025,-.01,-.025,-.01,-.02,-.01,-.02,-.01];
const c3_or = [.25,.04,.18,.01,.11,0,.105,0,.105,.01,.085,.01,.05,0,.03,0,.03,0,.025,0,.02,0,.02,0,.025,0,.03,.005,.03,.005,.025,.005,.025,.005,.02,.005,.02,.005,.015,0,.015,0,.01,0,.01,0,.01,0,.01,0,.01,0,.01,0,.01,.005,.01,.005,.01,.005,.01,.005,.01,.005,.01,.005,.01];
const c3_lv = [-.25,-.04,-.15,-.005,-.08,-.02,-.05,-.01,-.03,-.005,-.01,0,-.005,0,-.01,0,-.02,0,-.025,0,-.02,-.005,-.02,-.005,-.015,-.005,-.01,0,-.005,.005,0,.01,0,.01,0,.01,.005,.01,.005,.015,.005,.02,.005,.015,0,.01,0,.01,-.005,.01,-.005,.005,-.005,.005,-.005,.005,-.005,.005,-.005,.005,-.005,.005,-.005,.005,-.005,.005,0];

// ---- (d2) parity order, |i-j|=17 ----
const d2_lb = [-1,-.15,-.4,-.08,-.22,-.05,-.22,-.05,-.18,-.03,-.1,-.01,-.05,0,-.02,0,-.01,.01,0,.01,0,.01,0,.02,0,.02,0,.03,0,.03,0,.03,-.02,.02,-.03,.02,-.04,.02,-.05,.01,-.06,0,-.06,0,-.05,0,-.05,0,-.04,0,-.04,0,-.04,0,-.03,0,-.03,0,-.03,0,-.03,0,-.03,0,-.03,0,-.03];
const d2_db = [-1,-.15,-.38,-.1,-.2,-.05,-.25,-.05,-.2,-.05,-.1,-.02,-.05,0,-.02,.02,0,.02,0,.02,0,.02,0,.03,.02,.05,0,.08,0,.1,0,.1,0,.12,0,.13,0,.16,0,.12,0,.1,-.02,.08,-.03,.05,-.04,.04,-.04,.03,-.04,.03,-.03,.03,-.03,.02,-.03,.02,-.03,.02,-.03,.02,-.03,.02,-.02,.01,-.02];
const d2_lg = [1,.15,.45,.12,.3,.05,.28,.06,.3,.04,.2,.02,.12,0,.06,0,.04,-.04,.02,-.07,0,-.1,0,-.1,0,-.08,0,-.06,0,-.05,0,-.05,0,-.06,0,-.08,.02,-.08,.04,-.1,.06,-.08,.04,-.08,.03,-.07,.02,-.07,.02,-.06,.02,-.07,.02,-.06,.02,-.06,.02,-.05,.02,-.05,.02,-.05,.02,-.05,.02,-.04,.02];
const d2_dg = [1,.15,.45,.15,.32,.05,.3,.08,.35,.05,.25,.03,.17,0,.08,0,.05,-.05,.03,-.1,0,-.15,0,-.17,0,-.17,0,-.13,0,-.08,0,-.06,0,-.05,0,-.05,0,-.06,0,-.06,0,-.05,0,-.05,0,-.04,.01,-.04,.01,-.04,.01,-.04,.01,-.05,.01,-.04,.01,-.04,.01,-.04,.01,-.04,.01,-.03,.01,-.03,.01];
const d2_pk = [-1,-.15,-.4,-.05,-.55,-.05,-.35,-.05,-.3,-.02,-.15,0,-.08,0,-.04,0,-.02,0,-.02,0,-.02,0,-.02,0,-.02,0,-.02,0,-.03,0,-.03,-.01,-.04,-.01,-.05,-.01,-.06,-.01,-.07,-.02,-.08,-.02,-.08,-.02,-.07,-.02,-.06,-.02,-.05,-.02,-.05,-.02,-.05,-.01,-.04,-.01,-.04,-.01,-.04,-.01,-.04,-.01,-.03,-.01,-.03,-.01,-.03];
const d2_rd = [1,.15,.45,.1,.4,.05,.35,.05,.3,0,.2,0,.1,0,.08,-.02,.1,0,.22,0,.3,.02,.33,.02,.3,.02,.2,0,.15,0,.08,-.02,.05,-.02,.04,-.02,.03,-.02,.03,-.03,.02,-.03,.03,-.03,.03,-.02,.04,-.02,.05,-.01,.06,0,.1,.02,.12,.02,.13,.02,.12,0,.1,0,.1,0,.09,-.02,.08];
const d2_lo = [-1,-.15,-.4,-.05,-.35,-.05,-.3,-.03,-.25,-.02,-.15,0,-.08,0,-.05,.02,-.04,.02,-.05,0,-.05,0,-.08,-.02,-.12,-.02,-.15,-.02,-.18,-.02,-.22,-.02,-.28,-.02,-.27,-.02,-.25,-.02,-.15,-.02,-.12,-.02,-.12,-.02,-.1,-.02,-.1,-.01,-.1,-.01,-.1,-.01,-.1,-.01,-.1,-.01,-.1,-.01,-.1,-.01,-.09,-.01,-.1,-.01,-.09,-.01,-.09];
const d2_or = [1,.15,.47,.15,.45,.05,.47,.1,.47,.05,.55,0,.5,0,.47,.02,.4,.02,.3,0,.2,0,.1,-.02,.05,-.05,.03,-.06,0,-.05,-.02,-.06,-.03,-.07,-.03,-.06,-.02,-.05,0,-.06,.02,-.05,.03,-.04,.04,-.03,.05,-.03,.06,-.02,.06,-.02,.07,-.02,.07,-.03,.08,-.03,.08,-.04,.08,-.04,.08,-.04,.07,-.04,.06];
const d2_lv = [-1,-.15,-.65,-.05,-.42,0,-.58,0,-.4,0,-.45,0,-.4,0,-.35,0,-.3,0,-.2,0,-.12,0,-.08,0,-.05,0,-.03,0,-.02,.01,-.02,.01,-.02,.01,-.02,0,-.02,0,-.03,0,-.03,0,-.03,0,-.03,.01,-.03,.01,-.03,.01,-.03,.01,-.03,.01,-.02,.01,-.02,.01,-.02,.01,-.02,.01,-.02,.01,-.02,.01,-.02];

// ---- (d3) density wave order, |i-j|=17 ----
const d3_lb = [-.25,-.04,-.1,-.01,-.05,-.01,-.05,-.01,-.04,-.005,-.02,0,-.005,0,0,.005,0,.005,0,.005,0,.005,0,.005,0,.005,0,.01,0,.01,0,.01,-.005,.01,-.01,.005,-.01,.005,-.015,0,-.015,0,-.015,0,-.015,0,-.015,0,-.01,0,-.01,0,-.01,0,-.01,0,-.01,0,-.01,0,-.01,0,-.01,0,-.01,0,-.01];
const d3_db = [-.25,-.04,-.1,-.005,-.045,-.005,-.05,-.01,-.045,-.01,-.025,-.005,-.01,0,0,.005,.005,.01,.01,.01,.01,.005,.01,.005,.01,.01,0,.015,0,.02,0,.025,0,.03,0,.035,0,.045,0,.035,0,.02,-.005,.015,-.01,.01,-.01,.01,-.01,.01,-.005,.01,-.005,.01,-.005,.01,-.005,.01,-.005,.01,-.005,.01,-.005,.005,-.005,.005,-.005];
const d3_lg = [.25,.04,.13,.01,.1,.01,.09,.02,.08,.01,.05,.01,.025,0,.015,0,.01,-.01,.005,-.015,0,-.03,0,-.03,0,-.025,0,-.02,0,-.02,0,-.02,0,-.02,0,-.025,.005,-.025,.01,-.03,.015,-.03,.01,-.04,.01,-.035,.005,-.03,.005,-.03,.005,-.025,.005,-.025,.005,-.025,.005,-.02,.005,-.02,.005,-.02,.005,-.02,.005,-.02,.005];
const d3_dg = [.25,.04,.14,.01,.11,.01,.1,.02,.09,.02,.055,.01,.03,0,.02,0,.01,-.01,.005,-.02,0,-.05,0,-.065,0,-.06,0,-.04,0,-.03,0,-.02,0,-.02,0,-.02,0,-.02,0,-.03,0,-.03,0,-.025,0,-.02,0,-.02,0,-.015,0,-.015,0,-.015,0,-.015,0,-.01,0,-.01,0,-.01,0,-.01,0,-.01,0];
const d3_pk = [-.25,-.04,-.1,-.01,-.06,-.01,-.07,-.01,-.08,-.01,-.05,0,-.02,0,-.01,0,-.005,0,-.005,0,-.005,0,-.005,0,-.005,0,-.005,0,-.005,0,-.01,0,-.01,0,-.015,0,-.015,-.005,-.02,-.005,-.02,-.005,-.02,-.005,-.02,-.005,-.015,-.005,-.015,-.005,-.015,-.005,-.015,-.005,-.01,-.005,-.01,-.005,-.01,-.005,-.01,-.005,-.01,-.005,-.01,-.005,-.01];
const d3_rd = [.25,.04,.14,.01,.1,.01,.09,.01,.06,-.01,.03,-.02,.01,-.01,.01,0,.02,0,.04,0,.055,.01,.07,.01,.065,.01,.055,.005,.05,.005,.03,0,.02,0,.015,0,.01,-.005,.01,-.005,.01,-.005,.01,-.005,.01,0,.015,0,.02,.005,.02,.005,.03,.005,.03,.005,.03,.005,.025,.005,.025,.005,.025,.005,.025,.005,.02];
const d3_lo = [-.25,-.04,-.12,-.01,-.1,-.01,-.08,-.01,-.07,-.005,-.05,0,-.03,0,-.02,.005,-.015,.005,-.015,0,-.015,0,-.025,-.005,-.035,-.005,-.045,-.005,-.05,-.005,-.06,-.005,-.065,-.005,-.055,-.005,-.045,-.005,-.04,-.005,-.035,-.005,-.03,-.005,-.03,-.005,-.03,-.005,-.025,-.005,-.025,-.005,-.025,-.005,-.025,-.005,-.025,-.005,-.025,-.005,-.025,-.005,-.025,-.005,-.025,-.005,-.02];
const d3_or = [.25,.04,.235,.01,.21,.01,.185,.04,.14,.02,.13,.02,.12,.02,.12,0,.1,0,.06,0,.05,0,.035,-.005,.025,-.01,.02,-.01,.015,-.01,0,-.015,0,-.015,0,-.015,0,-.015,.005,-.015,.005,-.01,.005,-.01,.01,-.005,.01,-.005,.015,-.005,.015,-.005,.015,-.005,.02,-.005,.02,-.005,.02,-.01,.02,-.01,.02,-.01,.02,-.01,.015];
const d3_lv = [-.25,-.04,-.23,-.01,-.195,0,-.17,0,-.13,0,-.1,0,-.1,0,-.09,0,-.05,0,-.03,0,-.02,.005,-.01,.005,-.01,.005,-.005,.005,-.005,.005,-.005,.005,-.005,.005,-.005,.005,-.005,.005,-.01,.005,-.01,.005,-.01,.005,-.01,.005,-.01,.005,-.01,.005,-.01,.005,-.01,.005,-.01,.005,-.01,.005,-.01,.005,-.01,.005,-.01,.005,-.01,.005,-.01];

// ---------- styling (not data) ----------
const colors = ['#a6cee3','#1f78b4','#b2df8a','#33a02c','#fb9a99','#e31a1c','#fdbf6f','#ff7f00','#cab2d6'];
const W = 1388, H = 1750;
const colLeft = [67, 521, 975], colRight = [434, 889, 1343];
const rowTop = [21, 460, 901, 1340], rowBot = [376, 815, 1255, 1695];
const ytOff = [52, 59, 56];

const panels = [
  ['a1','S',0,0,[a1_lb,a1_db,a1_lg,a1_dg,a1_pk,a1_rd,a1_lo,a1_or,a1_lv]],
  ['a2','P',0,1,[a2_lb,a2_db,a2_lg,a2_dg,a2_pk,a2_rd,a2_lo,a2_or,a2_lv]],
  ['a3','D',0,2,[a3_lb,a3_db,a3_lg,a3_dg,a3_pk,a3_rd,a3_lo,a3_or,a3_lv]],
  ['b1','S',1,0,[b1_lb,b1_db,b1_lg,b1_dg,b1_pk,b1_rd,b1_lo,b1_or,b1_lv]],
  ['b2','P',1,1,[b2_lb,b2_db,b2_lg,b2_dg,b2_pk,b2_rd,b2_lo,b2_or,b2_lv]],
  ['b3','D',1,2,[b3_lb,b3_db,b3_lg,b3_dg,b3_pk,b3_rd,b3_lo,b3_or,b3_lv]],
  ['c1','S',2,0,[c1_lb,c1_db,c1_lg,c1_dg,c1_pk,c1_rd,c1_lo,c1_or,c1_lv]],
  ['c2','P',2,1,[c2_lb,c2_db,c2_lg,c2_dg,c2_pk,c2_rd,c2_lo,c2_or,c2_lv]],
  ['c3','D',2,2,[c3_lb,c3_db,c3_lg,c3_dg,c3_pk,c3_rd,c3_lo,c3_or,c3_lv]],
  ['d1','S',3,0,[d1_lb,d1_db,d1_lg,d1_dg,d1_pk,d1_rd,d1_lo,d1_or,d1_lv]],
  ['d2','P',3,1,[d2_lb,d2_db,d2_lg,d2_dg,d2_pk,d2_rd,d2_lo,d2_or,d2_lv]],
  ['d3','D',3,2,[d3_lb,d3_db,d3_lg,d3_dg,d3_pk,d3_rd,d3_lo,d3_or,d3_lv]]
];
const kinds = {
  S: {range:[0,1], dtick:0.2, minor:0.1, title:'String order',
      ylab:'<i>O</i><sub><i>ij</i></sub>(<i>t</i>)'},
  P: {range:[-1,1], dtick:0.5, minor:0.25, title:'Parity order',
      ylab:'<i>O</i><sup>I</sup><sub><i>ij</i></sub>(<i>t</i>)'},
  D: {range:[-0.3,0.3], dtick:0.1, minor:0.05, title:'Density wave order',
      ylab:'<i>O</i><sup><i>DW</i></sup><sub><i>ij</i></sub>(<i>t</i>)'}
};

const px = p => p / W, py = p => 1 - p / H;
const traces = [], annotations = [];
const layout = {
  width: W, height: H, margin: {l:0, r:0, t:0, b:0},
  paper_bgcolor: '#fff', plot_bgcolor: '#fff',
  font: {family: 'Liberation Sans, Arial, sans-serif', size: 13, color: '#222'},
  showlegend: true,
  legend: {x: px(213), y: py(1466), xanchor: 'left', yanchor: 'top',
    bgcolor: '#fff', bordercolor: '#222', borderwidth: 1.2,
    font: {family: 'Liberation Serif, DejaVu Serif, serif', size: 15, color: '#222'},
    tracegroupgap: 3, itemwidth: 30},
  annotations: annotations
};

panels.forEach((p, k) => {
  const [key, kind, r, c, series] = p;
  const K = kinds[kind];
  const n = k + 1;
  const xa = 'xaxis' + (n === 1 ? '' : n), ya = 'yaxis' + (n === 1 ? '' : n);
  const gridc = '#e4e4e4';
  layout[xa] = {domain: [px(colLeft[c]), px(colRight[c])], anchor: 'y' + n,
    range: [0, 100], dtick: 20, tick0: 0, showline: true, mirror: true, linecolor: '#333', linewidth: 1.3,
    ticks: 'outside', ticklen: 5, tickcolor: '#333', ticklabelstandoff: 5, showgrid: true, gridcolor: gridc, zeroline: false,
    minor: {dtick: 10, ticks: 'outside', ticklen: 3, tickcolor: '#333', showgrid: true, gridcolor: '#ededed'},
    tickfont: {size: 13, color: '#222'}, fixedrange: true};
  layout[ya] = {domain: [py(rowBot[r]), py(rowTop[r])], anchor: 'x' + n,
    range: K.range, dtick: K.dtick, tick0: 0, tickformat: '.1f', showline: true, mirror: true, linecolor: '#333', linewidth: 1.3,
    ticks: 'outside', ticklen: 8, tickcolor: '#333', ticklabelstandoff: 5, showgrid: true, gridcolor: gridc, zeroline: false,
    minor: {dtick: K.minor, ticks: 'outside', ticklen: 4, tickcolor: '#333', showgrid: true, gridcolor: '#ededed'},
    tickfont: {size: 13, color: '#222'}, fixedrange: true};

  series.forEach((yv, s) => {
    traces.push({x: kind === 'S' ? tS : tP, y: yv, xaxis: 'x' + n, yaxis: 'y' + n,
      type: 'scatter', mode: 'lines', line: {color: colors[s], width: 3.5},
      name: stateLabels[s], showlegend: key === 'd1', legendgroup: 'g' + s, hoverinfo: 'skip'});
  });

  const cx = (colLeft[c] + colRight[c]) / 2;
  annotations.push({xref: 'paper', yref: 'paper', x: px(cx), y: py(rowTop[r] - 11), text: '<b>' + K.title + '</b>',
    showarrow: false, xanchor: 'center', yanchor: 'middle', font: {family: 'Liberation Sans, Arial, sans-serif', size: 13, color: '#111'}});
  annotations.push({xref: 'paper', yref: 'paper', x: px(colLeft[c] - ytOff[c]), y: py((rowTop[r] + rowBot[r]) / 2),
    text: K.ylab, textangle: -90, showarrow: false, xanchor: 'center', yanchor: 'middle',
    font: {family: 'Liberation Serif, DejaVu Serif, serif', size: 19, color: '#222'}});
  annotations.push({xref: 'paper', yref: 'paper', x: px(cx), y: py(rowBot[r] + (r === 3 ? 41 : 45)),
    text: '<i>J</i><sub>2</sub><i>t</i>', showarrow: false, xanchor: 'center', yanchor: 'middle',
    font: {family: 'Liberation Serif, DejaVu Serif, serif', size: 19, color: '#222'}});
  annotations.push({xref: 'paper', yref: 'paper', x: px(colLeft[c] + 70), y: py(rowTop[r] + (r === 3 ? 38 : 44)),
    text: '(' + key + ')', showarrow: false, xanchor: 'center', yanchor: 'middle',
    font: {family: 'Liberation Serif, Times New Roman, serif', size: 36, color: '#111'}});
  if (key !== 'd1') {
    annotations.push({xref: 'paper', yref: 'paper', x: px(colLeft[c] + 205), y: py(rowTop[r] + 74),
      text: '|<i>i</i> − <i>j</i>| = ' + distances[r], showarrow: false, xanchor: 'center', yanchor: 'middle',
      font: {family: 'Liberation Serif, Times New Roman, serif', size: 28, color: '#111'}});
  }
});

Plotly.newPlot('chart', traces, layout, {staticPlot: true, displayModeBar: false});
</script>
</body></html>
